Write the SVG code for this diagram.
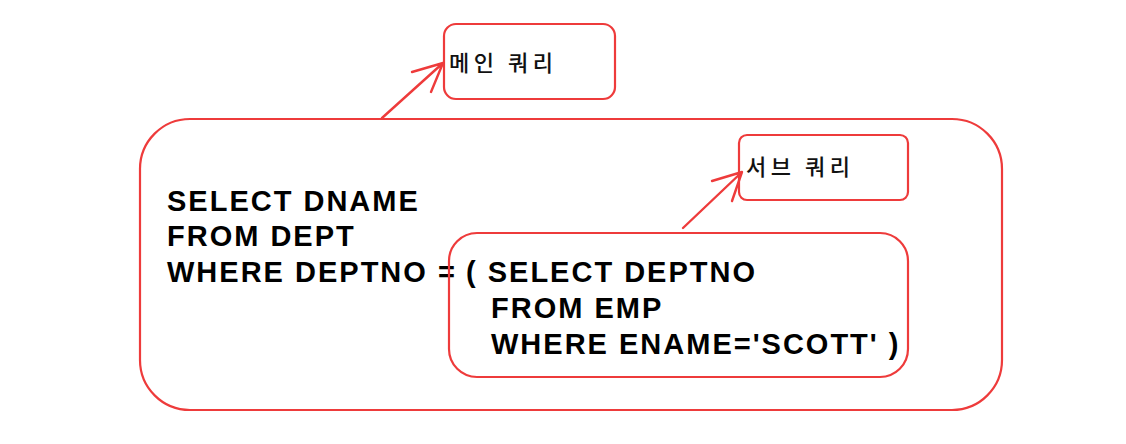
<svg xmlns="http://www.w3.org/2000/svg" width="1126" height="444" viewBox="0 0 1126 444">
<style>
.box{fill:none;stroke:#ee3b3b;stroke-width:2.2}
.conn{fill:none;stroke:#ee3b3b;stroke-width:2.4;stroke-linecap:round;stroke-linejoin:round}
.sql{font-family:"Liberation Sans",Arial,sans-serif;font-weight:bold;font-size:29px;letter-spacing:2px;fill:#000}
.ko{font-family:"Noto Sans CJK KR","Noto Sans",sans-serif;font-size:22px;font-weight:500;letter-spacing:4.5px;fill:#111}
</style>
<rect width="1126" height="444" fill="#fff"/>
<g id="outer-query">
<rect class="box" x="140" y="119" width="862" height="291" rx="50" ry="50"/>
<text class="sql" x="167" y="211">SELECT DNAME</text>
<text class="sql" x="167" y="246">FROM DEPT</text>
<text class="sql" x="167" y="282">WHERE DEPTNO =</text>
</g>
<g id="inner-query">
<rect class="box" x="449" y="233" width="459" height="144" rx="28" ry="28"/>
<text class="sql" x="466" y="282">( SELECT DEPTNO</text>
<text class="sql" x="491" y="318">FROM EMP</text>
<text class="sql" x="491" y="354">WHERE ENAME='SCOTT' )</text>
</g>
<g id="main-query-label">
<rect class="box" x="444" y="24" width="171" height="75" rx="12" ry="12"/>
<text class="ko" x="449" y="71">메인 쿼리</text>
</g>
<g id="sub-query-label">
<rect class="box" x="739" y="135" width="169" height="65" rx="8" ry="8"/>
<text class="ko" x="746" y="175">서브 쿼리</text>
</g>
<g id="connectors">
<path class="conn" d="M382,118 L443,63 M412,72 L443,63 L431,92"/>
<path class="conn" d="M683,228 L742,172 M712,181 L742,172 L732,201"/>
</g>
</svg>
